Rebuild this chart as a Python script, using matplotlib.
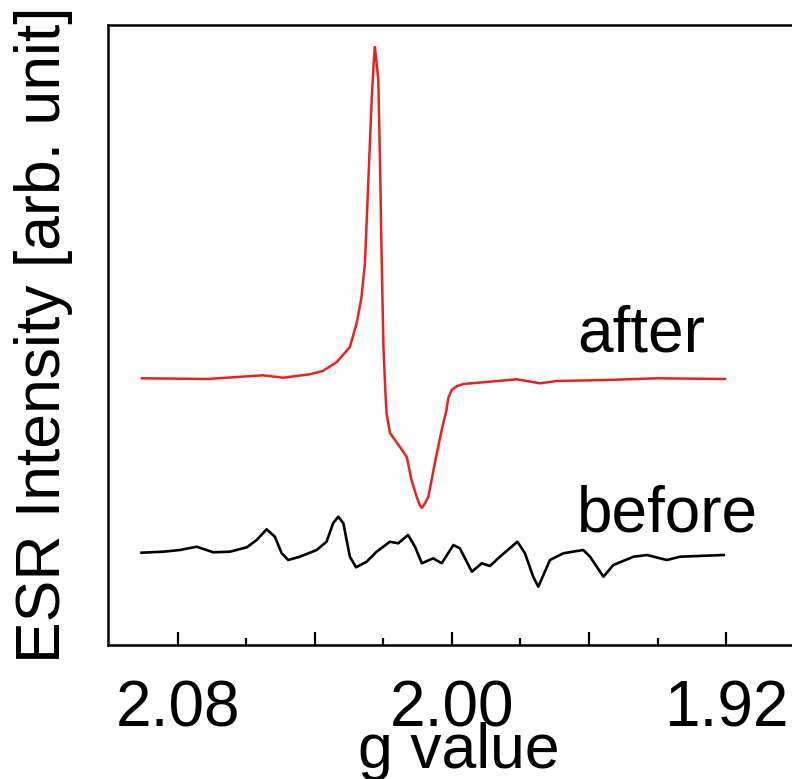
import matplotlib
matplotlib.use("Agg")
import matplotlib.pyplot as plt

# g value / intensity (arb. unit)
g_after = [2.0905, 2.0715, 2.0552, 2.0493, 2.0415, 2.0377, 2.0336, 2.0298,
           2.0278, 2.0264, 2.0254, 2.0244, 2.0234, 2.0228, 2.0225, 2.0221,
           2.0215, 2.0210, 2.0205, 2.0200, 2.0194, 2.0191, 2.0181, 2.0152,
           2.0132, 2.0118, 2.0103, 2.0094, 2.0088, 2.0080, 2.0069, 2.0050,
           2.0030, 2.0016, 2.0011, 2.0001, 1.9985, 1.9967, 1.9889, 1.9811,
           1.9743, 1.9694, 1.9548, 1.9402, 1.9203]
int_after = [266.7, 266, 269.7, 267.3, 270.7, 274, 283, 298,
             322, 348, 382, 465, 548, 585, 598, 585,
             565, 482, 382, 298, 250, 232, 212, 198,
             188, 165, 148, 140, 137, 141, 148, 182,
             215, 235, 246.7, 255, 259, 261, 263.3, 265.7,
             261.7, 264, 265, 266.7, 266]

g_before = [2.0906, 2.0843, 2.0794, 2.0745, 2.0697, 2.0648, 2.0599, 2.0570,
            2.0541, 2.0517, 2.0497, 2.0478, 2.0444, 2.0395, 2.0366, 2.0347,
            2.0332, 2.0317, 2.0298, 2.0280, 2.0249, 2.0220, 2.0181, 2.0157,
            2.0128, 2.0108, 2.0088, 2.0055, 2.0030, 1.9996, 1.9977, 1.9942,
            1.9913, 1.9889, 1.9860, 1.9809, 1.9787, 1.9763, 1.9748, 1.9714,
            1.9675, 1.9617, 1.9597, 1.9558, 1.9529, 1.9470, 1.9431, 1.9373,
            1.9334, 1.9207]
int_before = [92.3, 93.3, 95, 98.3, 92.7, 93.3, 97.7, 105,
              115.7, 108.3, 91.7, 85, 88.3, 95, 103.3, 121.7,
              128.3, 121.7, 88.3, 77.7, 83.3, 93.3, 103.3, 101.7,
              110, 98.3, 81.7, 86.7, 81.7, 100, 96.7, 73.3,
              81.7, 79, 88.3, 103.3, 91.7, 68.3, 58.3, 85,
              91.7, 95, 88.3, 68.3, 80, 88.3, 90, 85,
              88.3, 90]

major_ticks = [2.08, 2.04, 2.00, 1.96, 1.92]
minor_ticks = [2.06, 2.02, 1.98, 1.94]
tick_labels = ["2.08", "", "2.00", "", "1.92"]

plt.rcParams['font.family'] = ['Liberation Sans', 'DejaVu Sans']
fs = 45

fig = plt.figure(figsize=(7.92, 7.79), dpi=100)
ax = fig.add_axes([108/792, 134/779, 702/792, 620/779])

ax.plot(g_after, int_after, color='#e8231f', lw=1.8)
ax.plot(g_before, int_before, color='black', lw=1.9)

ax.text(1.9635, 293, "after", fontsize=46, va='baseline', ha='left')
ax.text(1.9635, 113, "before", fontsize=46, va='baseline', ha='left')

ax.set_xlim(2.1004, 1.8955)
ax.set_ylim(0, 620)
ax.set_yticks([])
ax.set_xticks(major_ticks)
ax.set_xticklabels(tick_labels)
ax.set_xticks(minor_ticks, minor=True)
ax.tick_params(axis='x', which='major', direction='in', length=9.5, width=1.6,
               labelsize=46, pad=25)
ax.tick_params(axis='x', which='minor', direction='in', length=5, width=1.6)
for s in ax.spines.values():
    s.set_linewidth(1.8)

ax.set_xlabel("g value", fontsize=fs, labelpad=-13)
ax.set_ylabel("ESR Intensity [arb. unit]", fontsize=fs, labelpad=25)

fig.savefig("out.png", dpi=100)
